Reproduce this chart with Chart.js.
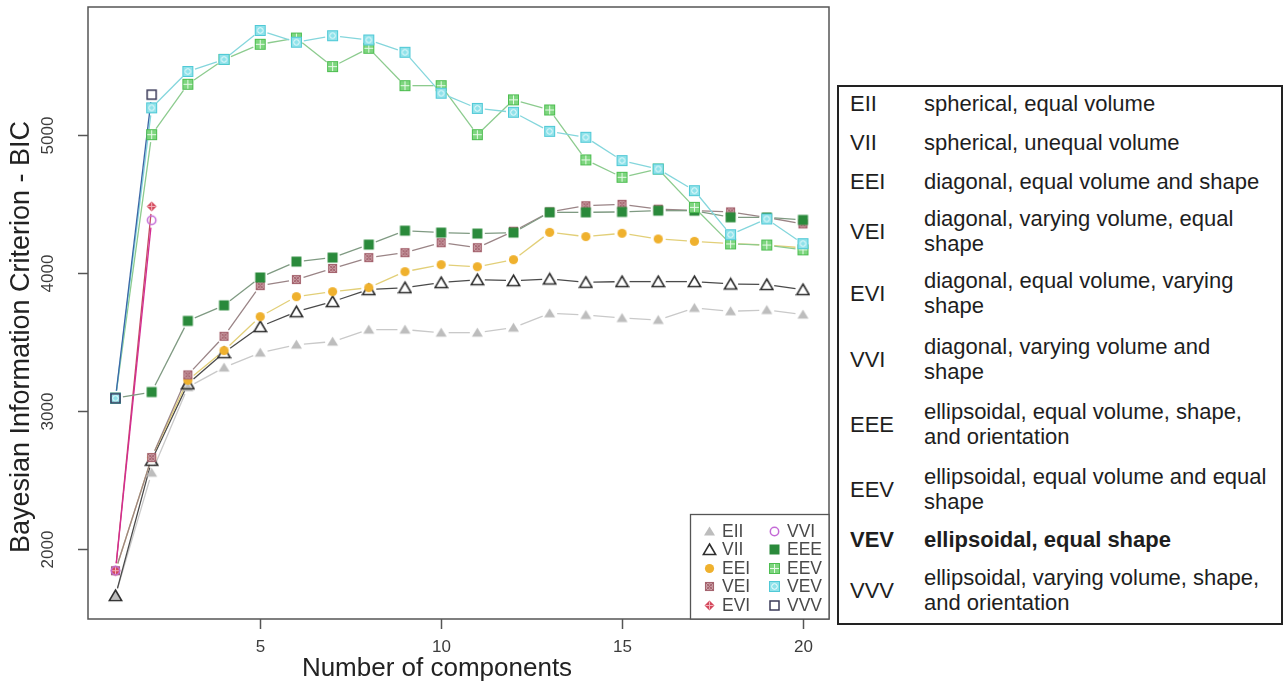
<!DOCTYPE html>
<html>
<head>
<meta charset="utf-8">
<script src="https://cdn.jsdelivr.net/npm/chart.js@4.4.0/dist/chart.umd.min.js"></script>
<style>
  body { margin: 0; background: #fff; font-family: "Liberation Sans", Arial, sans-serif; }
  #wrap { position: absolute; left: 0; top: 0; width: 836px; height: 687px; }
  #key { position: absolute; left: 837px; top: 85px; width: 442px; height: 536px;
         border: 2px solid #222; color: #1e1e1e; font-size: 22px; }
  #key div { position: absolute; line-height: 25px; white-space: nowrap; }
  #key .bold { font-weight: bold; }
</style>
</head>
<body>
<div id="wrap"><canvas id="bic"></canvas></div>
<div id="key"></div>
<script>
// BIC per covariance model and number of mixture components
const components = [1, 2, 3, 4, 5, 6, 7, 8, 9, 10, 11, 12, 13, 14, 15, 16, 17, 18, 19, 20];
const models = ['EII', 'VII', 'EEI', 'VEI', 'EVI', 'VVI', 'EEE', 'EEV', 'VEV', 'VVV'];

const bicEII = [1660, 2550, 3170, 3312, 3420, 3478, 3500, 3587, 3587, 3565, 3565, 3601, 3705, 3693, 3671, 3657, 3744, 3720, 3729, 3696];
const bicVII = [1660, 2640, 3194, 3420, 3609, 3717, 3790, 3877, 3891, 3928, 3949, 3942, 3954, 3930, 3935, 3935, 3935, 3918, 3914, 3877];
const bicEEI = [1840, 2660, 3220, 3435, 3681, 3826, 3862, 3891, 4007, 4058, 4043, 4094, 4292, 4261, 4285, 4244, 4227, 4210, 4200, 4180];
const bicVEI = [1840, 2660, 3259, 3539, 3906, 3950, 4030, 4109, 4145, 4217, 4181, 4300, 4440, 4485, 4495, 4460, 4450, 4440, 4400, 4353];
const bicEVI = [1840, 4480];
const bicVVI = [1840, 4380];
const bicEEE = [3090, 3135, 3650, 3763, 3965, 4080, 4109, 4203, 4304, 4290, 4283, 4290, 4437, 4437, 4440, 4449, 4449, 4401, 4400, 4382];
const bicEEV = [3090, 5000, 5365, 5545, 5655, 5700, 5493, 5626, 5355, 5355, 5000, 5252, 5179, 4817, 4691, 4751, 4473, 4208, 4200, 4165];
const bicVEV = [3090, 5194, 5458, 5545, 5755, 5670, 5717, 5686, 5597, 5300, 5190, 5162, 5024, 4981, 4812, 4751, 4594, 4275, 4389, 4210];
const bicVVV = [3090, 5290];

const xTicks = [5, 10, 15, 20];
const yTicks = [2000, 3000, 4000, 5000];

// model descriptions shown in the key table
const keyLines = [
  ['spherical, equal volume'],
  ['spherical, unequal volume'],
  ['diagonal, equal volume and shape'],
  ['diagonal, varying volume, equal', 'shape'],
  ['diagonal, equal volume, varying', 'shape'],
  ['diagonal, varying volume and', 'shape'],
  ['ellipsoidal, equal volume, shape,', 'and orientation'],
  ['ellipsoidal, equal volume and equal', 'shape'],
  ['ellipsoidal, equal shape'],
  ['ellipsoidal, varying volume, shape,', 'and orientation']
];
const keyRowTop = [4, 43, 82, 119, 181, 247, 312, 377, 440, 478];
const keyBold = 'VEV';

const series = [bicEII, bicVII, bicEEI, bicVEI, bicEVI, bicVVI, bicEEE, bicEEV, bicVEV, bicVVV];

const lineColors = {
  EII: '#c9c9c9', VII: '#4a4a4a', EEI: '#e2cf78', VEI: '#9a8486', EVI: '#c44a62',
  VVI: '#d42c92', EEE: '#7f9a82', EEV: '#8ccb8e', VEV: '#84d6dc', VVV: '#3b66a6'
};

// small canvases used as point markers, one look per model
function marker(name) {
  const s = 15, m = 7.5;
  const c = document.createElement('canvas');
  c.width = c.height = s;
  const g = c.getContext('2d');
  g.lineJoin = 'miter';
  switch (name) {
    case 'EII':
      g.fillStyle = '#bdbdbd';
      g.beginPath(); g.moveTo(m, m - 5); g.lineTo(m + 5.5, m + 4); g.lineTo(m - 5.5, m + 4); g.closePath(); g.fill();
      break;
    case 'VII':
      g.strokeStyle = '#2e2e2e'; g.lineWidth = 1.6;
      g.beginPath(); g.moveTo(m, m - 5.5); g.lineTo(m + 6.2, m + 5); g.lineTo(m - 6.2, m + 5); g.closePath(); g.stroke();
      break;
    case 'EEI':
      g.fillStyle = '#efb12e';
      g.beginPath(); g.arc(m, m, 4.6, 0, Math.PI * 2); g.fill();
      break;
    case 'VEI':
      g.fillStyle = '#efd9dc'; g.fillRect(3, 3, 9, 9);
      g.strokeStyle = '#a5646f'; g.lineWidth = 1.1;
      g.strokeRect(3.5, 3.5, 8, 8);
      g.beginPath(); g.moveTo(3.5, 3.5); g.lineTo(11.5, 11.5); g.moveTo(11.5, 3.5); g.lineTo(3.5, 11.5); g.stroke();
      g.beginPath(); g.arc(m, m, 2.6, 0, Math.PI * 2); g.stroke();
      break;
    case 'EVI':
      g.fillStyle = '#d4495c';
      g.beginPath(); g.moveTo(m, m - 5); g.lineTo(m + 5, m); g.lineTo(m, m + 5); g.lineTo(m - 5, m); g.closePath(); g.fill();
      g.strokeStyle = '#f3b3bc'; g.lineWidth = 1;
      g.beginPath(); g.moveTo(m, m - 4); g.lineTo(m, m + 4); g.moveTo(m - 4, m); g.lineTo(m + 4, m); g.stroke();
      break;
    case 'VVI':
      g.strokeStyle = '#c46ad6'; g.lineWidth = 1.5;
      g.beginPath(); g.arc(m, m, 4.2, 0, Math.PI * 2); g.stroke();
      break;
    case 'EEE':
      g.fillStyle = '#2a8a3b'; g.fillRect(2.5, 2.5, 10, 10);
      break;
    case 'EEV':
      g.fillStyle = '#7ed67f'; g.fillRect(2, 2, 11, 11);
      g.strokeStyle = '#4dbd50'; g.lineWidth = 1; g.strokeRect(2.5, 2.5, 10, 10);
      g.strokeStyle = '#e9fbe9';
      g.beginPath(); g.moveTo(m, 3); g.lineTo(m, 12); g.moveTo(3, m); g.lineTo(12, m); g.stroke();
      break;
    case 'VEV':
      g.fillStyle = '#8fe2ea'; g.fillRect(2, 2, 11, 11);
      g.strokeStyle = '#50c9d6'; g.lineWidth = 1; g.strokeRect(2.5, 2.5, 10, 10);
      g.strokeStyle = '#f2feff';
      g.beginPath(); g.arc(m, m, 2.8, 0, Math.PI * 2); g.stroke();
      break;
    case 'VVV':
      g.strokeStyle = '#3a3a58'; g.lineWidth = 1.5; g.strokeRect(3, 3, 9, 9);
      break;
  }
  return c;
}

const markers = {};
models.forEach(m => { markers[m] = marker(m); });

const datasets = models.map((name, i) => ({
  label: name,
  data: series[i].map((v, j) => ({ x: components[j], y: v })),
  pointStyle: markers[name],
  pointRadius: 6,
  pointHoverRadius: 6,
  showLine: false,
  order: models.length - i
}));

// type="b" style joins: each segment stops short of its two points
const segmentLines = {
  id: 'segmentLines',
  beforeDatasetsDraw(chart) {
    const ctx = chart.ctx;
    const gap = 7.5;
    ctx.save();
    ctx.lineWidth = 1.3;
    models.forEach((name, i) => {
      const pts = chart.getDatasetMeta(i).data;
      ctx.strokeStyle = lineColors[name];
      for (let j = 1; j < pts.length; j++) {
        const a = pts[j - 1], b = pts[j];
        const dx = b.x - a.x, dy = b.y - a.y;
        const len = Math.hypot(dx, dy);
        if (len <= gap * 2) continue;
        const ux = dx / len, uy = dy / len;
        ctx.beginPath();
        ctx.moveTo(a.x + ux * gap, a.y + uy * gap);
        ctx.lineTo(b.x - ux * gap, b.y - uy * gap);
        ctx.stroke();
      }
    });
    ctx.restore();
  }
};

// frame, tick marks, tick labels, axis titles and the inset legend
const frameAndLegend = {
  id: 'frameAndLegend',
  afterDraw(chart) {
    const ctx = chart.ctx;
    const { left, right, top, bottom } = chart.chartArea;
    const xs = chart.scales.x, ys = chart.scales.y;
    ctx.save();

    ctx.strokeStyle = '#555';
    ctx.lineWidth = 1.5;
    ctx.strokeRect(left, top, right - left, bottom - top);

    ctx.fillStyle = '#3c3c3c';
    ctx.font = '17px "Liberation Sans", Arial, sans-serif';
    ctx.textAlign = 'center';
    ctx.textBaseline = 'middle';
    xTicks.forEach(v => {
      const px = Math.round(xs.getPixelForValue(v)) + 0.5;
      ctx.beginPath(); ctx.moveTo(px, bottom); ctx.lineTo(px, bottom + 10); ctx.stroke();
      ctx.fillText(String(v), px, bottom + 28);
    });
    yTicks.forEach(v => {
      const py = Math.round(ys.getPixelForValue(v)) + 0.5;
      ctx.beginPath(); ctx.moveTo(left - 10, py); ctx.lineTo(left, py); ctx.stroke();
      ctx.save();
      ctx.translate(left - 40, py);
      ctx.rotate(-Math.PI / 2);
      ctx.fillText(String(v), 0, 0);
      ctx.restore();
    });

    ctx.fillStyle = '#222';
    ctx.font = '26px "Liberation Sans", Arial, sans-serif';
    ctx.fillText('Number of components', 437, 669);
    ctx.save();
    ctx.translate(22, 337);
    ctx.rotate(-Math.PI / 2);
    ctx.font = '27px "Liberation Sans", Arial, sans-serif';
    ctx.fillText('Bayesian Information Criterion - BIC', 0, 0);
    ctx.restore();

    // inset legend, bottom right of the plot
    const lx = 690, ly = 514;
    ctx.fillStyle = '#fff';
    ctx.fillRect(lx, ly, right - lx, bottom - ly);
    ctx.strokeStyle = '#555';
    ctx.lineWidth = 1.3;
    ctx.strokeRect(lx + 0.5, ly + 0.5, right - lx - 0.5, bottom - ly - 0.5);
    ctx.font = '17.5px "Liberation Sans", Arial, sans-serif';
    ctx.textAlign = 'left';
    ctx.fillStyle = '#4a4a4a';
    models.forEach((name, i) => {
      const col = Math.floor(i / 5), row = i % 5;
      const mx = lx + 19 + col * 65, my = ly + 17 + row * 18.5;
      const img = markers[name];
      ctx.drawImage(img, Math.round(mx - img.width / 2), Math.round(my - img.height / 2));
      ctx.fillText(name, mx + 13, my + 1);
    });
    ctx.restore();
  }
};

new Chart(document.getElementById('bic'), {
  type: 'scatter',
  data: { datasets },
  options: {
    responsive: true,
    maintainAspectRatio: false,
    animation: false,
    layout: { padding: { left: 88, right: 6, top: 4, bottom: 68 } },
    plugins: { legend: { display: false }, tooltip: { enabled: false } },
    scales: {
      x: { type: 'linear', display: false, min: 0.24, max: 20.72 },
      y: { type: 'linear', display: false, min: 1490, max: 5925 }
    }
  },
  plugins: [segmentLines, frameAndLegend]
});

// key table on the right
const key = document.getElementById('key');
models.forEach((code, i) => {
  const lines = keyLines[i];
  const top = keyRowTop[i];
  const codeDiv = document.createElement('div');
  codeDiv.textContent = code;
  codeDiv.style.left = '11px';
  codeDiv.style.top = (top + (lines.length - 1) * 12.5) + 'px';
  const textDiv = document.createElement('div');
  textDiv.innerHTML = lines.join('<br>');
  textDiv.style.left = '85px';
  textDiv.style.top = top + 'px';
  if (code === keyBold) { codeDiv.className = 'bold'; textDiv.className = 'bold'; }
  key.appendChild(codeDiv);
  key.appendChild(textDiv);
});
</script>
</body>
</html>
